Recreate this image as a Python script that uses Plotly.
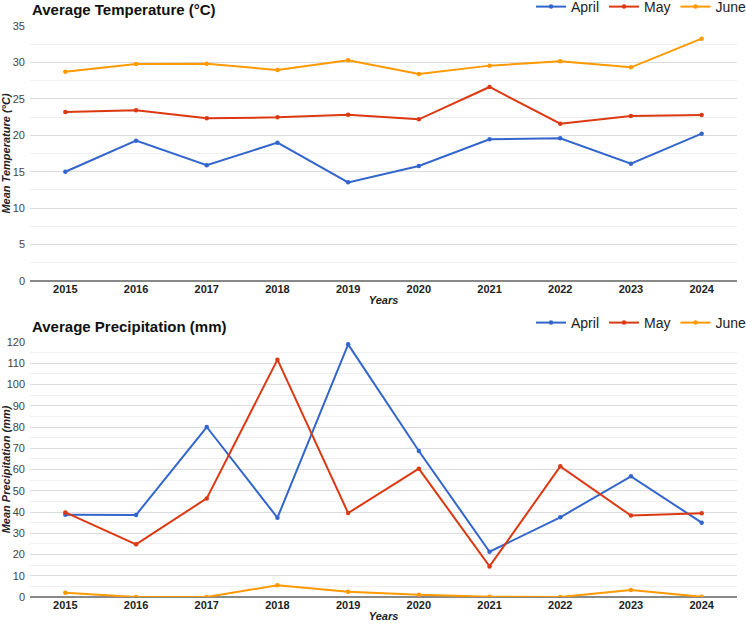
import plotly.graph_objects as go

years = ["2015", "2016", "2017", "2018", "2019", "2020", "2021", "2022", "2023", "2024"]

temp_april = [15.0, 19.26, 15.88, 18.99, 13.54, 15.78, 19.44, 19.58, 16.1, 20.22]
temp_may = [23.2, 23.42, 22.33, 22.46, 22.83, 22.19, 26.63, 21.6, 22.65, 22.78]
temp_june = [28.73, 29.78, 29.83, 28.96, 30.29, 28.41, 29.56, 30.15, 29.33, 33.26]

prec_april = [38.7, 38.6, 80.0, 37.3, 118.9, 68.7, 21.3, 37.5, 56.8, 35.0]
prec_may = [39.8, 24.8, 46.4, 111.7, 39.5, 60.4, 14.4, 61.5, 38.3, 39.4]
prec_june = [2.0, 0.0, 0.0, 5.5, 2.5, 1.1, 0.1, 0.0, 3.3, 0.1]

months = ["April", "May", "June"]
colors = ["#3366CC", "#DC3912", "#FF9900"]

W, H = 746, 624
FONT = "Liberation Sans, Arial, sans-serif"

fig = go.Figure()

for name, vals, col in zip(months, [temp_april, temp_may, temp_june], colors):
    fig.add_trace(go.Scatter(x=years, y=vals, name=name, mode="lines+markers",
                             line=dict(color=col, width=2), marker=dict(color=col, size=4.5),
                             xaxis="x", yaxis="y", legend="legend"))
for name, vals, col in zip(months, [prec_april, prec_may, prec_june], colors):
    fig.add_trace(go.Scatter(x=years, y=vals, name=name, mode="lines+markers",
                             line=dict(color=col, width=2), marker=dict(color=col, size=4.5),
                             xaxis="x2", yaxis="y2", legend="legend2"))

def py(p):
    return 1 - p / H

xdom = [30 / W, 737 / W]
xcommon = dict(type="category", range=[-0.5, 9.5], showgrid=False, zeroline=False,
               showline=False, ticks="", automargin=False,
               tickfont=dict(size=11, color="#222", weight="bold"),
               title=dict(text="Years", font=dict(size=11, color="#222", style="italic", weight="bold"),
                          standoff=2),
               fixedrange=True)
ycommon = dict(showgrid=True, gridcolor="#dcdcdc", gridwidth=1, zeroline=True,
               zerolinecolor="#888", zerolinewidth=1.5, showline=False, ticks="",
               automargin=False,
               tickfont=dict(size=11, color="#444"), ticklabelstandoff=4)

fig.update_layout(
    width=W, height=H, margin=dict(l=0, r=0, t=0, b=0, autoexpand=False),
    paper_bgcolor="white", plot_bgcolor="white",
    font=dict(family=FONT, color="#222"),
    xaxis=dict(domain=xdom, anchor="y", **xcommon),
    yaxis=dict(domain=[py(281), py(26)], anchor="x", range=[0, 35], dtick=5,
               minor=dict(dtick=2.5, showgrid=True, gridcolor="#f0f0f0"),
               title=dict(text="Mean Temperature (°C)",
                          font=dict(size=11, color="#222", style="italic", weight="bold"), standoff=4),
               **ycommon),
    xaxis2=dict(domain=xdom, anchor="y2", **xcommon),
    yaxis2=dict(domain=[py(597), py(342)], anchor="x2", range=[0, 120], dtick=10,
                minor=dict(dtick=5, showgrid=True, gridcolor="#f0f0f0"),
                title=dict(text="Mean Precipitation (mm)",
                           font=dict(size=11, color="#222", style="italic", weight="bold"), standoff=4),
                **ycommon),
    legend=dict(orientation="h", xanchor="right", x=1.0 + 6 / W, yanchor="middle", y=py(7),
                font=dict(size=14, color="#222"), bgcolor="rgba(0,0,0,0)",
                itemwidth=30, tracegroupgap=0),
    legend2=dict(orientation="h", xanchor="right", x=1.0 + 6 / W, yanchor="middle", y=py(323),
                 font=dict(size=14, color="#222"), bgcolor="rgba(0,0,0,0)",
                 itemwidth=30, tracegroupgap=0),
    annotations=[
        dict(text="Average Temperature (°C)", xref="paper", yref="paper", x=30 / W, y=py(10),
             xanchor="left", yanchor="middle", showarrow=False,
             font=dict(size=15, color="#111", weight="bold")),
        dict(text="Average Precipitation (mm)", xref="paper", yref="paper", x=30 / W, y=py(326),
             xanchor="left", yanchor="middle", showarrow=False,
             font=dict(size=15, color="#111", weight="bold")),
    ],
)

fig.write_html("out.html")
